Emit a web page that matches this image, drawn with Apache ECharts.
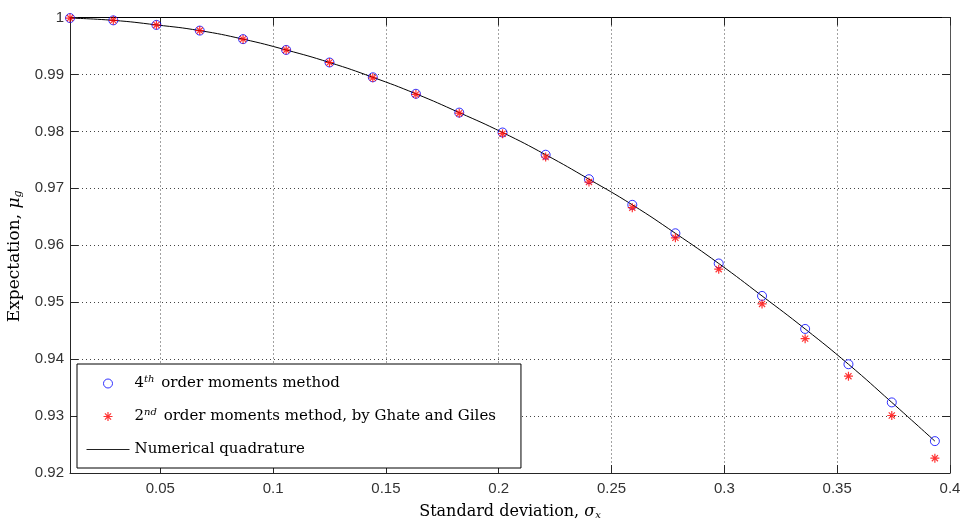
<!DOCTYPE html>
<html>
<head>
<meta charset="utf-8">
<script src="https://cdn.jsdelivr.net/npm/echarts@6/dist/echarts.min.js"></script>
<style>
  html, body { margin: 0; padding: 0; background: #fff; }
  #chart { width: 965px; height: 521px; }
</style>
</head>
<body>
<div id="chart"></div>
<script>
// Standard deviation of the input
const sigma = [0.0100, 0.0292, 0.0483, 0.0675, 0.0867, 0.1058, 0.1250, 0.1442, 0.1633, 0.1825,
               0.2017, 0.2208, 0.2400, 0.2592, 0.2783, 0.2975, 0.3167, 0.3358, 0.3550, 0.3742, 0.3933];
// Expectation from the 4th order moments method
const fourthOrder = [0.9999, 0.9995, 0.9987, 0.9977, 0.9962, 0.9943, 0.9921, 0.9895, 0.9866, 0.9833,
                     0.9798, 0.9759, 0.9716, 0.9671, 0.9621, 0.9568, 0.9511, 0.9453, 0.9391, 0.9324, 0.9256];
// Expectation from the 2nd order moments method (Ghate and Giles)
const secondOrder = [0.9999, 0.9995, 0.9987, 0.9977, 0.9962, 0.9943, 0.9921, 0.9894, 0.9865, 0.9832,
                     0.9796, 0.9755, 0.9711, 0.9666, 0.9613, 0.9558, 0.9497, 0.9436, 0.9370, 0.9301, 0.9226];
// Expectation by numerical quadrature
const quadrature = [0.9999, 0.9995, 0.9987, 0.9977, 0.9962, 0.9943, 0.9921, 0.9895, 0.9866, 0.9833,
                    0.9798, 0.9759, 0.9716, 0.9671, 0.9621, 0.9568, 0.9511, 0.9453, 0.9391, 0.9324, 0.9256];

const xTicks = [0.05, 0.1, 0.15, 0.2, 0.25, 0.3, 0.35, 0.4];
const xMin = 0.01, xMax = 0.4;
const yMin = 0.92, yMax = 1, yStep = 0.01;

const seriesNames = [
  '4{sup|th} order moments method',
  '2{sup|nd} order moments method, by Ghate and Giles',
  'Numerical quadrature'
];

const pair = (xs, ys) => xs.map((x, i) => [x, ys[i]]);

const tickFont = { fontFamily: 'Liberation Sans, Arial, sans-serif', fontSize: 15, color: '#333' };
const serif = 'DejaVu Serif, serif';
const axisColor = '#262626';
const gridLine = { show: true, lineStyle: { color: '#444', type: [1, 3], width: 1 } };

function titleStyle(size, extra) {
  return Object.assign({
    fontFamily: serif, fontSize: size, color: '#000',
    rich: {
      i: { fontFamily: serif, fontSize: size, fontStyle: 'italic', color: '#000' },
      sub: { fontFamily: serif, fontSize: Math.round(size * 0.62), fontStyle: 'italic', color: '#000',
             verticalAlign: 'bottom', padding: [Math.round(size * 0.45), 0, 0, 0] }
    }
  }, extra || {});
}

const asterisk = 'path://M5,0L5,10M0,5L10,5M1.6,1.6L8.4,8.4M8.4,1.6L1.6,8.4';

const chart = echarts.init(document.getElementById('chart'), null, { renderer: 'canvas' });
chart.setOption({
  backgroundColor: '#fff',
  animation: false,
  grid: { left: 70, right: 15, top: 17.5, bottom: 48, containLabel: false, outerBoundsMode: 'none' },
  xAxis: [
    {
      type: 'value', min: xMin, max: xMax, position: 'bottom',
      name: 'Standard deviation, {i|σ}{sub|x}', nameLocation: 'middle', nameGap: 30,
      nameTextStyle: titleStyle(16),
      axisLine: { show: true, lineStyle: { color: axisColor, width: 1 } },
      axisTick: { show: true, inside: true, length: 8, customValues: xTicks, lineStyle: { color: axisColor } },
      axisLabel: { show: true, customValues: xTicks, margin: 8, ...tickFont },
      splitLine: gridLine
    },
    {
      type: 'value', min: xMin, max: xMax, position: 'top',
      axisLine: { show: true, onZero: false, lineStyle: { color: '#000', width: 1 } },
      axisTick: { show: true, inside: true, length: 8, customValues: xTicks, lineStyle: { color: axisColor } },
      axisLabel: { show: false },
      splitLine: { show: false }
    }
  ],
  yAxis: [
    {
      type: 'value', min: yMin, max: yMax, interval: yStep, position: 'left',
      name: 'Expectation, {i|μ}{sub|g}', nameLocation: 'middle', nameGap: 43, nameRotate: 90,
      nameTextStyle: titleStyle(17, { padding: [0, 22, 0, 0] }),
      axisLine: { show: true, onZero: false, lineStyle: { color: axisColor, width: 1 } },
      axisTick: { show: true, inside: true, length: 8, lineStyle: { color: axisColor } },
      axisLabel: { show: true, margin: 6, ...tickFont, formatter: v => String(+v.toFixed(2)) },
      splitLine: gridLine
    },
    {
      type: 'value', min: yMin, max: yMax, interval: yStep, position: 'right',
      axisLine: { show: true, onZero: false, lineStyle: { color: '#555', width: 1 } },
      axisTick: { show: true, inside: true, length: 8, lineStyle: { color: axisColor } },
      axisLabel: { show: false },
      splitLine: { show: false }
    }
  ],
  legend: {
    orient: 'vertical', left: 77, top: 364,
    padding: [10, 25, 9, 9],
    itemWidth: 43, itemHeight: 9, itemGap: 14, itemTextGap: 2,
    backgroundColor: '#fff', borderColor: '#000', borderWidth: 1, borderRadius: 0,
    selectedMode: false,
    textStyle: {
      fontFamily: serif, fontSize: 15, color: '#000', lineHeight: 19,
      rich: {
        sup: { fontFamily: serif, fontSize: 10, fontStyle: 'italic', color: '#000', verticalAlign: 'top', lineHeight: 12, padding: [0, 2, 0, 0] }
      }
    },
    data: [
      { name: seriesNames[0], itemStyle: { borderWidth: 1, borderColor: '#0000ff', color: 'rgba(0,0,0,0)' } },
      { name: seriesNames[1], itemStyle: { borderWidth: 1.2, borderColor: '#ff0000' } },
      { name: seriesNames[2], itemStyle: { opacity: 0 }, lineStyle: { width: 1, color: '#222' } }
    ]
  },
  series: [
    {
      name: seriesNames[0], type: 'scatter', xAxisIndex: 0, yAxisIndex: 0, z: 3,
      symbol: 'circle', symbolSize: 9,
      itemStyle: { color: 'rgba(0,0,0,0)', borderColor: '#0000ff', borderWidth: 1 },
      emphasis: { disabled: true },
      data: pair(sigma, fourthOrder)
    },
    {
      name: seriesNames[1], type: 'scatter', xAxisIndex: 0, yAxisIndex: 0, z: 4,
      symbol: asterisk, symbolSize: 9,
      itemStyle: { color: '#ff0000', borderColor: '#ff0000', borderWidth: 1.2 },
      emphasis: { disabled: true },
      data: pair(sigma, secondOrder)
    },
    {
      name: seriesNames[2], type: 'line', xAxisIndex: 0, yAxisIndex: 0, z: 2,
      showSymbol: false, symbol: 'none', smooth: true,
      lineStyle: { color: '#000', width: 1 },
      emphasis: { disabled: true },
      data: pair(sigma, quadrature)
    }
  ]
});
</script>
</body>
</html>
